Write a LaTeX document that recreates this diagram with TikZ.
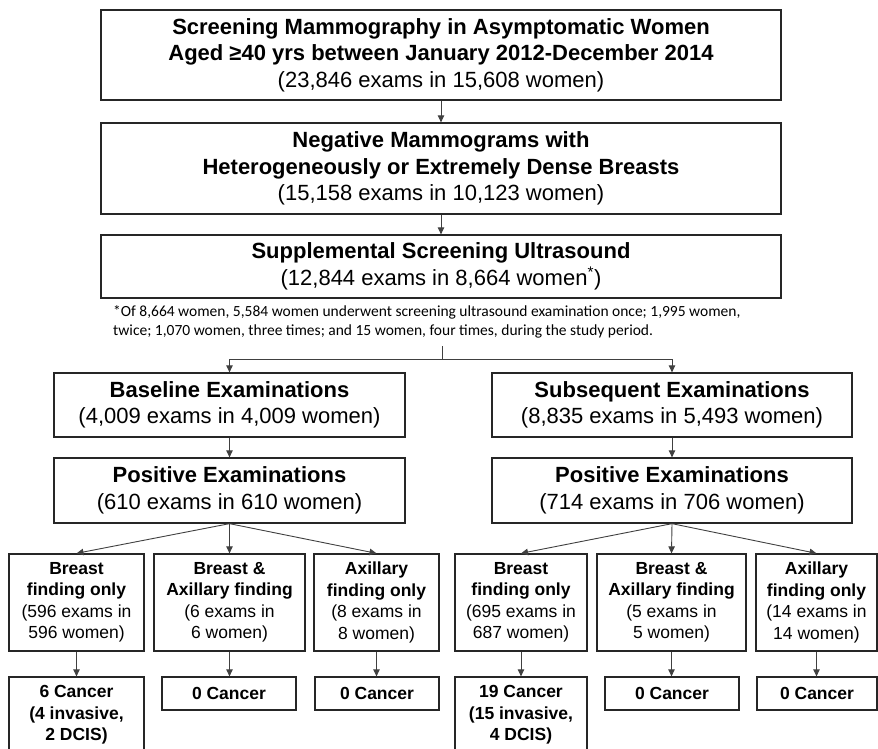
\documentclass[tikz,border=0pt]{standalone}
\usepackage{fontspec}
\setmainfont{Liberation Sans}
\newfontfamily\notefont{Carlito}
\usetikzlibrary{arrows.meta}
\tikzset{
  bx/.style={draw=black!85, line width=1.3pt, inner sep=0pt, align=center, text=black},
  conn/.style={draw=black!75, line width=0.9pt, -{Triangle[length=7pt,width=6.5pt]}},
  plain/.style={draw=black!75, line width=0.9pt},
  bigtxt/.style={font=\fontsize{22}{26.5}\selectfont},
  smtxt/.style={font=\fontsize{17.5}{21.5}\selectfont},
  smbold/.style={font=\fontsize{17.5}{21.5}\selectfont\bfseries},
}
\begin{document}
\begin{tikzpicture}[x=1pt,y=-1pt]
\useasboundingbox (0,0) rectangle (878,749);
\clip (0,0) rectangle (878,749);

% main column
\node[bx,bigtxt,minimum width=680pt,minimum height=90pt] (top) at (441,55)
  {\textbf{Screening Mammography in Asymptomatic Women}\\\textbf{Aged ≥40 yrs between January 2012-December 2014}\\(23,846 exams in 15,608 women)};
\node[bx,bigtxt,minimum width=680pt,minimum height=91pt] (neg) at (441,168.5)
  {\textbf{Negative Mammograms with}\\\textbf{Heterogeneously or Extremely Dense Breasts}\\(15,158 exams in 10,123 women)};
\node[bx,bigtxt,minimum width=680pt,minimum height=63pt] (sup) at (441,266.5)
  {\textbf{Supplemental Screening Ultrasound}\\(12,844 exams in 8,664 women\textsuperscript{*})};
\node[anchor=base west, align=left, inner sep=0pt, font=\notefont\fontsize{15.5}{19}\selectfont] (note) at (113,335)
  {*Of 8,664 women, 5,584 women underwent screening ultrasound examination once; 1,995 women,\\twice; 1,070 women, three times; and 15 women, four times, during the study period.};

\draw[conn] (top) -- (neg);
\draw[conn] (neg) -- (sup);

% split
\coordinate (sp) at (442,346);
\coordinate (spj) at (442,359);
\draw[plain] (sp) -- (spj);

% second level
\node[bx,bigtxt,minimum width=351pt,minimum height=64pt] (base) at (229.5,405)
  {\textbf{Baseline Examinations}\\(4,009 exams in 4,009 women)};
\node[bx,bigtxt,minimum width=360pt,minimum height=64pt] (subs) at (672,405)
  {\textbf{Subsequent Examinations}\\(8,835 exams in 5,493 women)};
\draw[conn] (spj) -| (base.north);
\draw[conn] (spj) -| (subs.north);

\node[bx,bigtxt,minimum width=351pt,minimum height=65pt] (posL) at (229.5,490.5)
  {\textbf{Positive Examinations}\\(610 exams in 610 women)};
\node[bx,bigtxt,minimum width=360pt,minimum height=65pt] (posR) at (672,490.5)
  {\textbf{Positive Examinations}\\(714 exams in 706 women)};
\draw[conn] (base) -- (posL);
\draw[conn] (subs) -- (posR);

% children
\node[bx,smtxt,minimum width=135pt,minimum height=97pt] (cL1) at (76.5,602.5)
  {\textbf{Breast}\\\textbf{finding only}\\(596 exams in\\596 women)};
\node[bx,smtxt,minimum width=151pt,minimum height=97pt] (cL2) at (229.5,602.5)
  {\textbf{Breast \&}\\\textbf{Axillary finding}\\(6 exams in\\6 women)};
\node[bx,smtxt,minimum width=125pt,minimum height=97pt] (cL3) at (376.5,602.5)
  {\textbf{Axillary}\\\textbf{finding only}\\(8 exams in\\8 women)};
\node[bx,smtxt,minimum width=132pt,minimum height=97pt] (cR1) at (521,602.5)
  {\textbf{Breast}\\\textbf{finding only}\\(695 exams in\\687 women)};
\node[bx,smtxt,minimum width=149pt,minimum height=97pt] (cR2) at (671.5,602.5)
  {\textbf{Breast \&}\\\textbf{Axillary finding}\\(5 exams in\\5 women)};
\node[bx,smtxt,minimum width=121pt,minimum height=97pt] (cR3) at (816.5,602.5)
  {\textbf{Axillary}\\\textbf{finding only}\\(14 exams in\\14 women)};

\draw[conn] (posL.south) -- (cL1.north);
\draw[conn] (posL.south) -- (cL2.north);
\draw[conn] (posL.south) -- (cL3.north);
\draw[conn] (posR.south) -- (cR1.north);
\draw[conn] (posR.south) -- (cR2.north);
\draw[conn] (posR.south) -- (cR3.north);

% outcomes
\node[bx,smbold,minimum width=135pt,minimum height=76pt] (dL1) at (76.5,715)
  {6 Cancer\\(4 invasive,\\2 DCIS)};
\node[bx,smbold,minimum width=134pt,minimum height=33pt] (dL2) at (229,693.5)
  {0 Cancer};
\node[bx,smbold,minimum width=124pt,minimum height=33pt] (dL3) at (377,693.5)
  {0 Cancer};
\node[bx,smbold,minimum width=132pt,minimum height=76pt] (dR1) at (521,715)
  {19 Cancer\\(15 invasive,\\4 DCIS)};
\node[bx,smbold,minimum width=134pt,minimum height=33pt] (dR2) at (672,693.5)
  {0 Cancer};
\node[bx,smbold,minimum width=120pt,minimum height=33pt] (dR3) at (817,693.5)
  {0 Cancer};

\draw[conn] (cL1) -- (dL1);
\draw[conn] (cL2) -- (cL2 |- dL2.north);
\draw[conn] (cL3) -- (cL3 |- dL3.north);
\draw[conn] (cR1) -- (dR1);
\draw[conn] (cR2) -- (cR2 |- dR2.north);
\draw[conn] (cR3) -- (cR3 |- dR3.north);
\end{tikzpicture}
\end{document}
